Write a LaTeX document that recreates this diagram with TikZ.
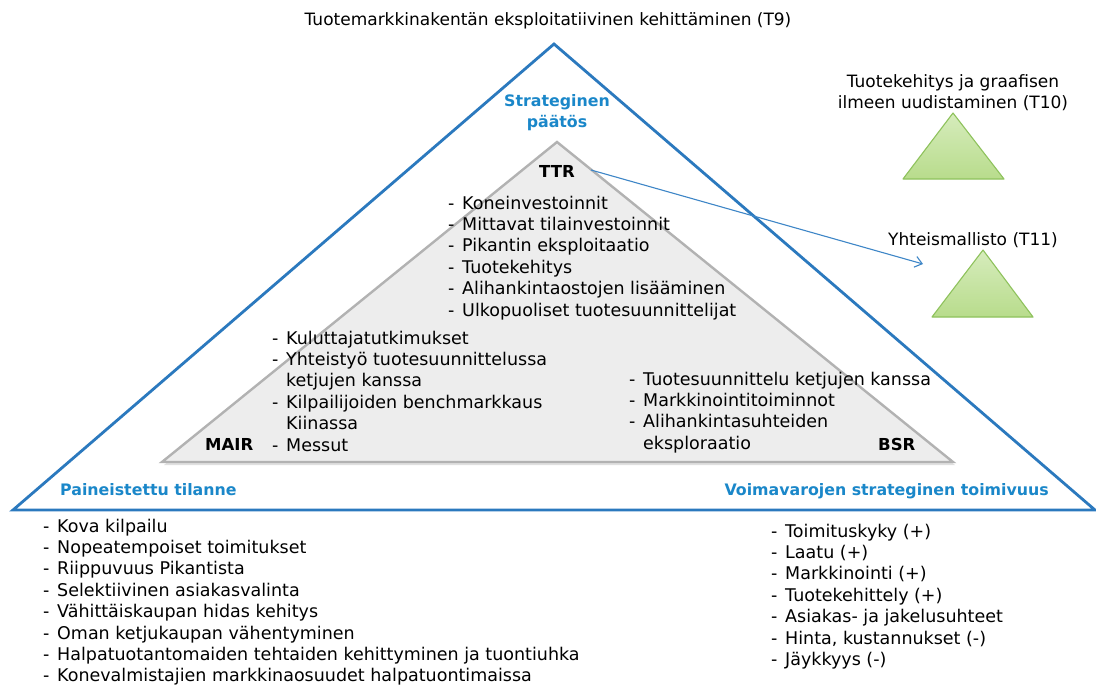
\documentclass[tikz,border=0pt]{standalone}
\usepackage{fontspec}
\setmainfont{DejaVu Sans}
\usetikzlibrary{arrows.meta,calc}

\definecolor{frameblue}{HTML}{2B79BE}
\definecolor{labelblue}{HTML}{1A87C9}
\definecolor{coregray}{HTML}{EDEDED}
\definecolor{coreedge}{HTML}{B2B2B2}
\definecolor{leafgreen}{HTML}{B8DC8C}
\definecolor{leaftop}{HTML}{D6ECBC}
\definecolor{leafedge}{HTML}{8EC25C}
\definecolor{linkblue}{HTML}{3E86C7}

% item lists: a dash column followed by the text
\newcommand{\itm}[1]{\makebox[14pt][l]{-}#1\\}
\newcommand{\cnt}[1]{\hspace*{14pt}#1\\}

\tikzset{
  listtext/.style={anchor=base west, inner sep=0pt,
    font=\fontsize{17.5}{21.4}\selectfont},
  plaintext/.style={inner sep=0pt, font=\fontsize{17}{21.4}\selectfont},
  bluehead/.style={inner sep=0pt, text=labelblue,
    font=\fontsize{15.8}{21}\selectfont\bfseries},
  corelabel/.style={inner sep=0pt, anchor=base,
    font=\fontsize{16.5}{21}\selectfont\bfseries},
  leaf/.style={draw=leafedge, line width=1.1pt, top color=leaftop,
    bottom color=leafgreen, line join=round},
}

\begin{document}
\begin{tikzpicture}[x=1pt,y=-1pt]
\useasboundingbox (0,0) rectangle (1096,686);
\fill[white] (0,0) rectangle (1096,686);

% outer strategy triangle
\coordinate (outerTop) at (554,44);
\coordinate (outerL) at (13,510);
\coordinate (outerR) at (1095,510);
\draw[frameblue, line width=2.8pt, line join=miter]
  (outerTop) -- (outerL) -- (outerR) -- cycle;

% inner resource triangle with a faint drop shadow
\coordinate (coreTop) at (557,142);
\coordinate (coreL) at (162,462);
\coordinate (coreR) at (953,462);
\fill[black!12] ($(coreL)+(2,3)$) -- ($(coreR)+(2,3)$) -- ($(coreTop)+(2,3)$) -- cycle;
\draw[coreedge, fill=coregray, line width=2.4pt, line join=miter]
  (coreTop) -- (coreL) -- (coreR) -- cycle;

% small green triangles
\coordinate (t10Top) at (953,113);
\coordinate (t10L) at (903,179);
\coordinate (t10R) at (1004,179);
\draw[leaf] (t10Top) -- (t10L) -- (t10R) -- cycle;
\coordinate (t11Top) at (983,250);
\coordinate (t11L) at (932,317);
\coordinate (t11R) at (1033,317);
\draw[leaf] (t11Top) -- (t11L) -- (t11R) -- cycle;

% headings
\node[plaintext, anchor=base] (title) at (548,25)
  {Tuotemarkkinakentän eksploitatiivinen kehittäminen (T9)};
\node[bluehead, anchor=base] (decision) at (557,106.7)
  {\begin{tabular}[t]{@{}c@{}}Strateginen\\päätös\end{tabular}};
\node[bluehead, anchor=base west] (pressure) at (60,495) {Paineistettu tilanne};
\node[bluehead, anchor=base east] (resources) at (1049,495)
  {Voimavarojen strateginen toimivuus};

\node[plaintext, anchor=base] (t10) at (953,87)
  {\begin{tabular}[t]{@{}c@{}}Tuotekehitys ja graafisen\\ilmeen uudistaminen (T10)\end{tabular}};
\node[plaintext, anchor=base] (t11) at (973,245) {Yhteismallisto (T11)};

% corner labels of the inner triangle
\node[corelabel] (ttr) at (557,177) {TTR};
\node[corelabel, anchor=base west] (mair) at (205,450.7) {MAIR};
\node[corelabel, anchor=base west] (bsr) at (878,450) {BSR};

% lists inside the inner triangle
\node[listtext] (ttrlist) at (448,209) {\begin{tabular}[t]{@{}l@{}}
\itm{Koneinvestoinnit}
\itm{Mittavat tilainvestoinnit}
\itm{Pikantin eksploitaatio}
\itm{Tuotekehitys}
\itm{Alihankintaostojen lisääminen}
\itm{Ulkopuoliset tuotesuunnittelijat}
\end{tabular}};

\node[listtext] (mairlist) at (272,344) {\begin{tabular}[t]{@{}l@{}}
\itm{Kuluttajatutkimukset}
\itm{Yhteistyö tuotesuunnittelussa}
\cnt{ketjujen kanssa}
\itm{Kilpailijoiden benchmarkkaus}
\cnt{Kiinassa}
\itm{Messut}
\end{tabular}};

\node[listtext] (bsrlist) at (629,385) {\begin{tabular}[t]{@{}l@{}}
\itm{Tuotesuunnittelu ketjujen kanssa}
\itm{Markkinointitoiminnot}
\itm{Alihankintasuhteiden}
\cnt{eksploraatio}
\end{tabular}};

% lists below the outer triangle
\node[listtext] (pressurelist) at (43,532) {\begin{tabular}[t]{@{}l@{}}
\itm{Kova kilpailu}
\itm{Nopeatempoiset toimitukset}
\itm{Riippuvuus Pikantista}
\itm{Selektiivinen asiakasvalinta}
\itm{Vähittäiskaupan hidas kehitys}
\itm{Oman ketjukaupan vähentyminen}
\itm{Halpatuotantomaiden tehtaiden kehittyminen ja tuontiuhka}
\itm{Konevalmistajien markkinaosuudet halpatuontimaissa}
\end{tabular}};

\node[listtext] (resourcelist) at (771,537) {\begin{tabular}[t]{@{}l@{}}
\itm{Toimituskyky (+)}
\itm{Laatu (+)}
\itm{Markkinointi (+)}
\itm{Tuotekehittely (+)}
\itm{Asiakas- ja jakelusuhteet}
\itm{Hinta, kustannukset (-)}
\itm{Jäykkyys (-)}
\end{tabular}};

% link from TTR to the shared collection
\coordinate (linkEnd) at (923,264);
\draw[linkblue, line width=1.1pt, -{Straight Barb[length=7pt,width=11pt]}]
  ([xshift=16pt,yshift=1pt]ttr.east) -- (linkEnd);
\end{tikzpicture}
\end{document}
